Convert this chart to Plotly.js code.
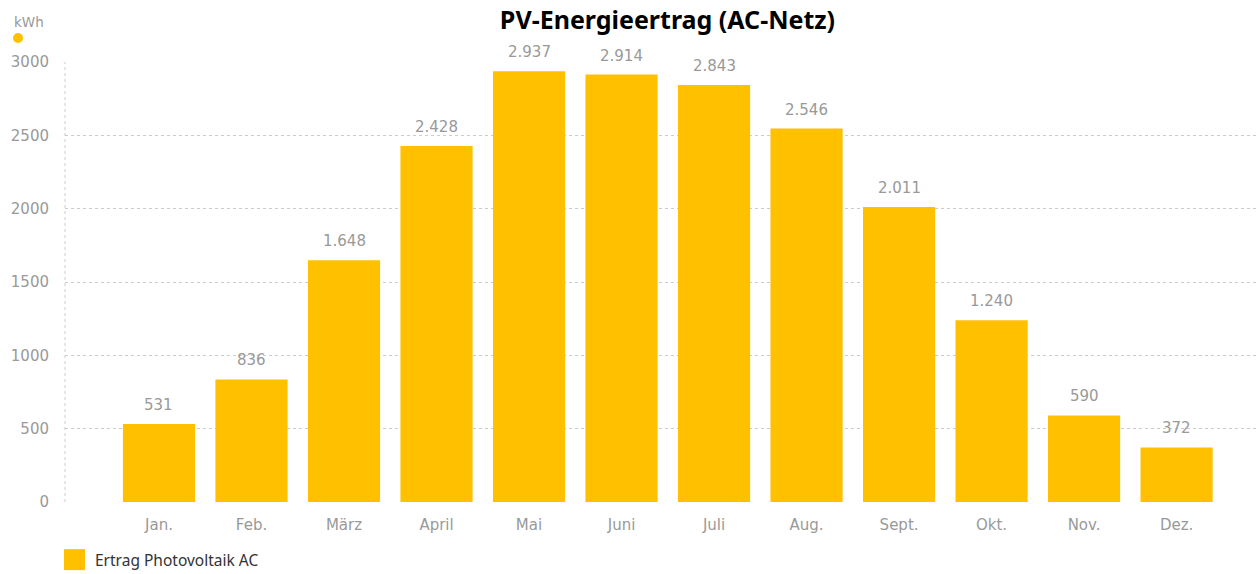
<!DOCTYPE html>
<html>
<head>
<meta charset="utf-8">
<script src="https://cdn.plot.ly/plotly-3.0.1.min.js"></script>
<style>html,body{margin:0;padding:0;background:#fff;}#chart{width:1258px;height:574px;}</style>
</head>
<body>
<div id="chart"></div>
<script>
const months = ["Jan.", "Feb.", "März", "April", "Mai", "Juni", "Juli", "Aug.", "Sept.", "Okt.", "Nov.", "Dez."];
const ertrag = [531, 836, 1648, 2428, 2937, 2914, 2843, 2546, 2011, 1240, 590, 372];
const yTicks = [0, 500, 1000, 1500, 2000, 2500, 3000];
const seriesName = "Ertrag Photovoltaik AC";

const FONT = "DejaVu Sans, Verdana, sans-serif";
const LFONT = "Noto Sans, sans-serif";
const BAR = "#FFC000";

const trace = {
  type: "bar",
  x: months,
  y: ertrag,
  name: seriesName,
  marker: {color: BAR},
  width: 0.78,
  showlegend: false
};

function fmt(v) {
  return String(v).replace(/\B(?=(\d{3})+(?!\d))/g, ".");
}

const valueLabels = months.map((m, i) => ({
  x: m, y: ertrag[i], xref: "x", yref: "y",
  text: fmt(ertrag[i]), showarrow: false,
  xanchor: "center", yanchor: "bottom", yshift: 8,
  font: {family: FONT, size: 15, color: "#999999"}
}));

const layout = {
  width: 1258, height: 574,
  separators: ",.",
  paper_bgcolor: "#ffffff", plot_bgcolor: "#ffffff",
  margin: {l: 65, r: 0, t: 62, b: 72, autoexpand: false},
  font: {family: FONT, color: "#999999", size: 15},
  title: {text: "<b>PV-Energieertrag (AC-Netz)</b>", font: {family: LFONT, size: 25, color: "#000000"}, x: 0.505, xref: "paper", xanchor: "center", y: 0.965, yanchor: "middle"},
  xaxis: {
    type: "category", range: [-1.016, 11.88],
    showgrid: false, showline: false, zeroline: false, ticks: "",
    ticklabelstandoff: 12,
    tickfont: {family: FONT, size: 15, color: "#999999"}
  },
  yaxis: {
    range: [0, 3000], tickvals: yTicks,
    showgrid: true, gridcolor: "#cccccc", griddash: "dot", gridwidth: 1,
    zeroline: false, showline: false, ticks: "",
    ticklabelstandoff: 15,
    tickfont: {family: FONT, size: 15, color: "#999999"}
  },
  showlegend: false,
  shapes: [
    {type: "line", xref: "paper", yref: "y", x0: 0, x1: 0, y0: 0, y1: 3000, line: {color: "#cccccc", width: 1, dash: "dot"}},
    {type: "circle", xref: "paper", yref: "paper", xsizemode: "pixel", ysizemode: "pixel", xanchor: -0.0394, yanchor: 1.0545, x0: -5, x1: 5, y0: -5, y1: 5, fillcolor: BAR, line: {width: 0}},
    {type: "rect", xref: "paper", yref: "paper", xsizemode: "pixel", ysizemode: "pixel", xanchor: 0, yanchor: -0.131, x0: -1, x1: 20, y0: -10.5, y1: 10.5, fillcolor: BAR, line: {width: 0}}
  ],
  annotations: [
    {text: "kWh", xref: "paper", yref: "paper", x: -0.0445, y: 1.0909, xanchor: "left", yanchor: "middle", showarrow: false, font: {family: FONT, size: 13.5, color: "#999999"}},
    {text: seriesName, xref: "paper", yref: "paper", x: 0.0235, y: -0.131, xanchor: "left", yanchor: "middle", showarrow: false, font: {family: LFONT, size: 15.5, color: "#333333"}}
  ].concat(valueLabels)
};

Plotly.newPlot("chart", [trace], layout, {displayModeBar: false, staticPlot: true});
</script>
</body>
</html>
